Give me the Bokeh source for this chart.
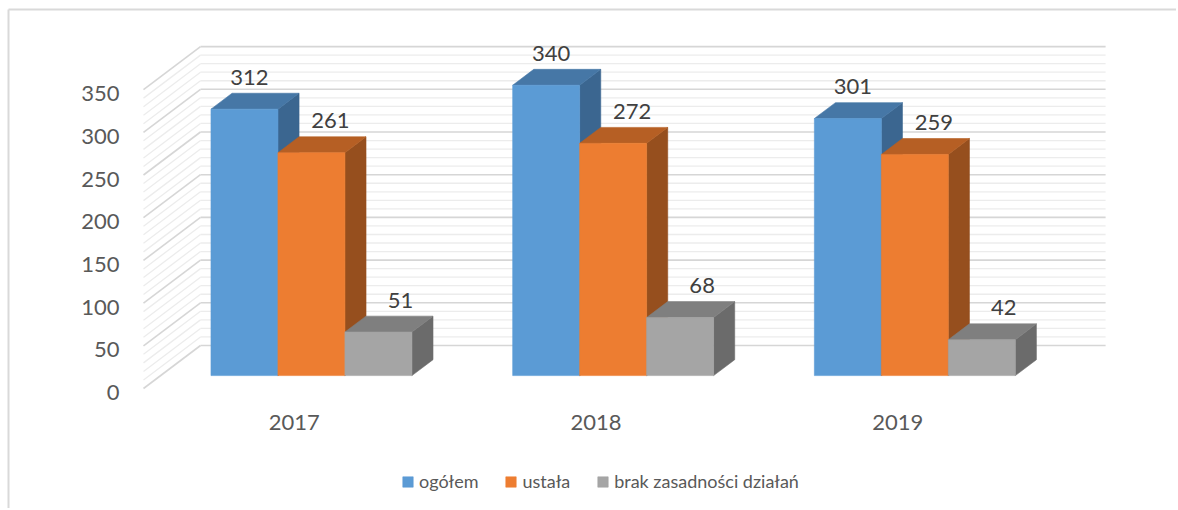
from bokeh.plotting import figure
from bokeh.models import Range1d, Legend, LegendItem, ColumnDataSource
from bokeh.core.properties import value
from bokeh.embed import file_html
from bokeh.resources import INLINE

# ---------------- data ----------------
years = ["2017", "2018", "2019"]
series_names = ["ogółem", "ustała", "brak zasadności działań"]
ogolem = [312, 340, 301]
ustala = [261, 272, 259]
brak = [51, 68, 42]
y_ticks = [0, 50, 100, 150, 200, 250, 300, 350]

# ---------------- styles ----------------
front_colors = ["#5B9BD5", "#ED7D31", "#A5A5A5"]
top_colors = ["#4677A6", "#B65F24", "#7F7F7F"]
side_colors = ["#3B6690", "#964F1E", "#6B6B6B"]
label_dx_px = [5, 19, 22]

W, H = 1176, 508
CAT_PX = 301.7          # pixels per category along the front floor edge
UNIT_PX = 0.854         # pixels per value unit
ORIGIN_X, ORIGIN_Y = 143, 388   # frame pixel of the front-left floor corner
DX = 57 / CAT_PX        # full depth offset (x, in category units)
DY = 43 / UNIT_PX       # full depth offset (y, in value units)
D0, D1 = 0.30, 0.67     # depth span occupied by the bars
GAP = 0.167
BW = 0.222
FONT = "Lato"

XMIN, XMAX = -ORIGIN_X / CAT_PX, (W - ORIGIN_X) / CAT_PX
YMIN, YMAX = -(H - ORIGIN_Y) / UNIT_PX, ORIGIN_Y / UNIT_PX

p = figure(width=W, height=H, output_backend="svg", toolbar_location=None,
           x_range=Range1d(XMIN, XMAX), y_range=Range1d(YMIN, YMAX),
           x_axis_location=None, y_axis_location=None, min_border=0,
           background_fill_color="white", border_fill_color="white")
p.grid.visible = False
p.outline_line_color = None

# chart-area border (top and left visible; the rest lies outside the window)
bx = (-ORIGIN_X + 8) / CAT_PX
by = (ORIGIN_Y - 9) / UNIT_PX
p.segment(x0=[bx, bx], y0=[by, by], x1=[XMAX, bx], y1=[by, YMIN],
          line_color="#d9d9d9", line_width=2)

# ---------------- walls: gridlines ----------------
ymax = y_ticks[-1]
minor_vals = [v for v in range(0, ymax + 1, 10) if v % 50 != 0]
major_vals = list(y_ticks)
ncat = len(years)

for vals, col, lw in [(minor_vals, "#ececec", 1.3), (major_vals, "#d6d6d6", 1.6)]:
    xs, ys = [], []
    for v in vals:
        xs.append([DX, ncat + DX]); ys.append([v + DY, v + DY])   # back wall
        xs.append([0, DX]); ys.append([v, v + DY])               # side wall
    p.multi_line(xs, ys, line_color=col, line_width=lw)

# ---------------- 3D bars ----------------
all_series = [ogolem, ustala, brak]
bar_renderers = []
for j, vals in enumerate(all_series):
    xs, ys, cols = [], [], []
    for i, v in enumerate(vals):
        x0 = i + GAP + j * BW
        x1 = x0 + BW
        fx0, fx1 = x0 + D0 * DX, x1 + D0 * DX
        bx0, bx1 = x0 + D1 * DX, x1 + D1 * DX
        fy, byy = D0 * DY, D1 * DY
        # side face
        xs.append([fx1, bx1, bx1, fx1]); ys.append([fy, byy, v + byy, v + fy]); cols.append(side_colors[j])
        # top face
        xs.append([fx0, fx1, bx1, bx0]); ys.append([v + fy, v + fy, v + byy, v + byy]); cols.append(top_colors[j])
        # front face
        xs.append([fx0, fx1, fx1, fx0]); ys.append([fy, fy, v + fy, v + fy]); cols.append(front_colors[j])
    src = ColumnDataSource(dict(xs=xs, ys=ys, c=cols))
    r = p.patches("xs", "ys", source=src, fill_color="c", line_color="c", line_width=0.6)
    bar_renderers.append(r)

# ---------------- data labels ----------------
for j, vals in enumerate(all_series):
    lx = [i + GAP + j * BW + BW / 2 + D0 * DX for i in range(ncat)]
    ly = [v + D1 * DY for v in vals]
    p.text(x=lx, y=ly, text=[str(v) for v in vals], x_offset=label_dx_px[j], y_offset=-16,
           text_align="center", text_baseline="middle", text_font=value(FONT),
           text_font_size="22px", text_color="#404040")

# ---------------- axis labels ----------------
p.text(x=[0] * len(y_ticks), y=y_ticks, text=[str(t) for t in y_ticks], x_offset=-24, y_offset=4,
       text_align="right", text_baseline="middle", text_font=value(FONT),
       text_font_size="22px", text_color="#595959")
p.text(x=[i + 0.5 for i in range(ncat)], y=[0] * ncat, text=years, y_offset=34,
       text_align="center", text_baseline="middle", text_font=value(FONT),
       text_font_size="22px", text_color="#595959")

# ---------------- legend ----------------
items = [LegendItem(label=name, renderers=[r], index=2)
         for name, r in zip(series_names, bar_renderers)]
legend = Legend(items=items, orientation="horizontal", location=(401, 16),
                border_line_color=None, background_fill_alpha=0, padding=0, margin=0,
                spacing=26, label_standoff=5, glyph_width=13, glyph_height=13,
                label_height=20, label_text_font=FONT, label_text_font_size="18px",
                label_text_color="#595959")
p.add_layout(legend)

open("out.html", "w").write(file_html(p, INLINE))
